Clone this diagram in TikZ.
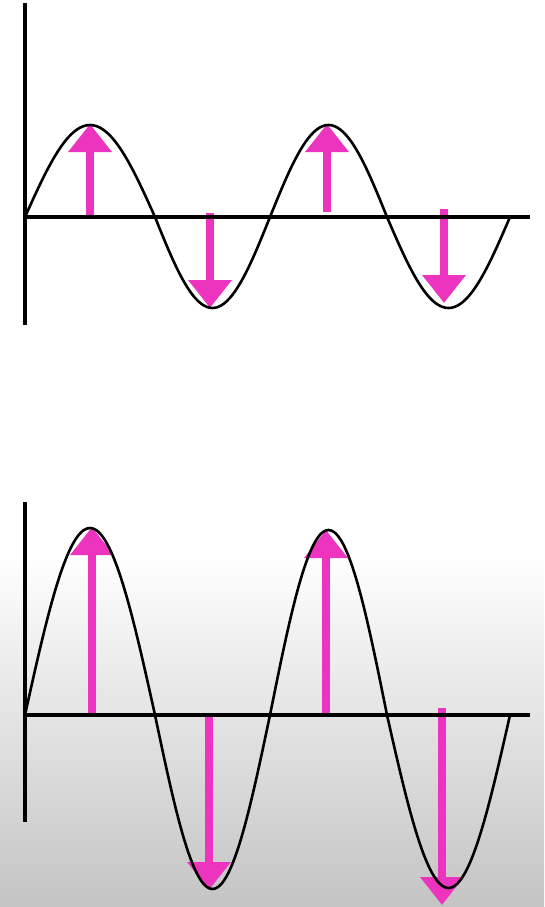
\documentclass[tikz,border=0pt]{standalone}
\usepackage{xcolor}
\usepackage{tikz}
\usetikzlibrary{arrows.meta, positioning, calc}

\definecolor{arrowpink}{RGB}{236,52,190}
\definecolor{shadegray}{RGB}{196,196,196}

\begin{document}
\begin{tikzpicture}[
        x=1pt, y=-1pt,
        axis/.style={
            line width=3.6pt,
            black
        },
        wave/.style={
            line width=2.6pt,
            line cap=round,
            black,
            smooth
        },
        amp/.style={
            -{Triangle[width=42pt, length=28pt]},
            line width=8pt,
            arrowpink
        }
    ]

    % Background
    \useasboundingbox (0,0) rectangle (544,907);
    \fill[white] (0,0) rectangle (544,554);
    \shade[top color=white, bottom color=shadegray] (0,553) rectangle (544,907);

    % Small wave: axes
    \coordinate (smallorigin) at (25,217);
    \coordinate (smalltop) at (25,3);
    \coordinate (smallbottom) at (25,325);
    \coordinate (smallend) at (530,217);

    % Small wave: arrow ends
    \coordinate (sbase1) at (90,217);
    \coordinate (speak1) at (90,124);
    \coordinate (sbase2) at (210,213);
    \coordinate (strough1) at (210,308);
    \coordinate (sbase3) at (327,212);
    \coordinate (speak2) at (327,124);
    \coordinate (sbase4) at (444,209);
    \coordinate (strough2) at (444,303);

    \draw[amp] (sbase1) -- (speak1);
    \draw[amp] (sbase2) -- (strough1);
    \draw[amp] (sbase3) -- (speak2);
    \draw[amp] (sbase4) -- (strough2);

    \draw[axis] (smalltop) -- (smallbottom);
    \draw[axis] (smallorigin) -- (smallend);
    \foreach \xa/\xb/\ay in {25/155/92, 155/270/-91, 270/387/92, 387/510/-91}
        \draw[wave] plot[domain=0:180, samples=41]
            ({\xa+\x/180*(\xb-\xa)}, {217-\ay*sin(\x)});

    % Large wave: axes
    \coordinate (largeorigin) at (25,715);
    \coordinate (largetop) at (25,502);
    \coordinate (largebottom) at (25,822);
    \coordinate (largeend) at (530,715);

    % Large wave: arrow ends
    \coordinate (lbase1) at (92,715);
    \coordinate (lpeak1) at (92,527);
    \coordinate (lbase2) at (209,713);
    \coordinate (ltrough1) at (209,890);
    \coordinate (lbase3) at (326,715);
    \coordinate (lpeak2) at (326,530);
    \coordinate (lbase4) at (442,708);
    \coordinate (ltrough2) at (442,905);

    \draw[amp] (lbase1) -- (lpeak1);
    \draw[amp] (lbase2) -- (ltrough1);
    \draw[amp] (lbase3) -- (lpeak2);
    \draw[amp] (lbase4) -- (ltrough2);

    \draw[axis] (largetop) -- (largebottom);
    \draw[axis] (largeorigin) -- (largeend);
    \foreach \xa/\xb/\ay in {25/155/187, 155/270/-174, 270/387/185, 387/510/-173}
        \draw[wave] plot[domain=0:180, samples=41]
            ({\xa+\x/180*(\xb-\xa)}, {715-\ay*sin(\x)});

\end{tikzpicture}
\end{document}
